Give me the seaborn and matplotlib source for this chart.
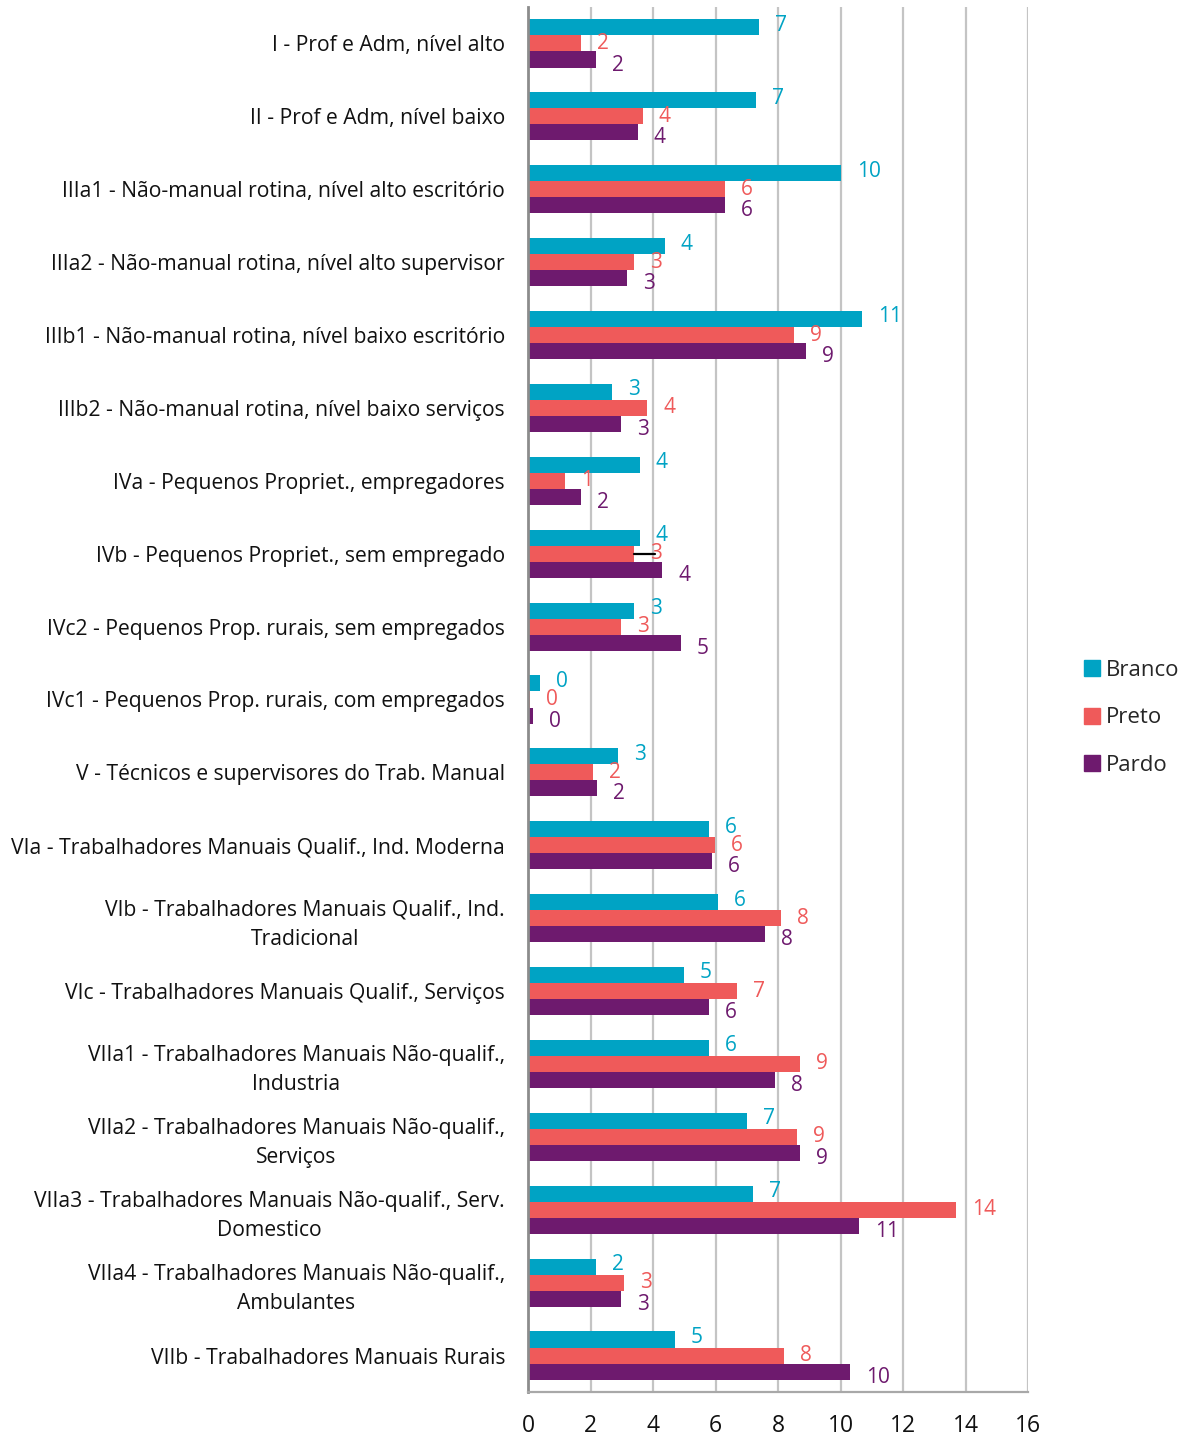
import matplotlib
matplotlib.use("Agg")
import matplotlib.pyplot as plt
import seaborn as sns
import pandas as pd
from matplotlib.lines import Line2D

categories = [
    "I - Prof e Adm, nível alto",
    "II - Prof e Adm, nível baixo",
    "IIIa1 - Não-manual rotina, nível alto escritório",
    "IIIa2 - Não-manual rotina, nível alto supervisor",
    "IIIb1 - Não-manual rotina, nível baixo escritório",
    "IIIb2 - Não-manual rotina, nível baixo serviços",
    "IVa - Pequenos Propriet., empregadores",
    "IVb - Pequenos Propriet., sem empregado",
    "IVc2 - Pequenos Prop. rurais, sem empregados",
    "IVc1 - Pequenos Prop. rurais, com empregados",
    "V - Técnicos e supervisores do Trab. Manual",
    "VIa - Trabalhadores Manuais Qualif., Ind. Moderna",
    "VIb - Trabalhadores Manuais Qualif., Ind.\nTradicional",
    "VIc - Trabalhadores Manuais Qualif., Serviços",
    "VIIa1 - Trabalhadores Manuais Não-qualif.,\nIndustria",
    "VIIa2 - Trabalhadores Manuais Não-qualif.,\nServiços",
    "VIIa3 - Trabalhadores Manuais Não-qualif., Serv.\nDomestico",
    "VIIa4 - Trabalhadores Manuais Não-qualif.,\nAmbulantes",
    "VIIb - Trabalhadores Manuais Rurais",
]

branco = [7.39, 7.30, 10.02, 4.38, 10.69, 2.69, 3.58, 3.58, 3.39, 0.38,
          2.88, 5.79, 6.08, 4.99, 5.79, 7.01, 7.20, 2.18, 4.70]
preto = [1.69, 3.68, 6.29, 3.39, 8.51, 3.81, 1.18, 3.39, 2.98, 0.06,
         2.08, 5.98, 8.10, 6.69, 8.70, 8.61, 13.70, 3.07, 8.19]
pardo = [2.19, 3.52, 6.29, 3.17, 8.90, 2.98, 1.70, 4.29, 4.90, 0.16,
         2.21, 5.89, 7.58, 5.79, 7.90, 8.70, 10.59, 2.98, 10.30]

series = ["Branco", "Preto", "Pardo"]
colors = ["#00A3C4", "#EF5A5A", "#6E1A6E"]
xticks = [0, 2, 4, 6, 8, 10, 12, 14, 16]

# leader line seen on the IVb / Preto label
leader_cat = "IVb - Pequenos Propriet., sem empregado"
leader_len = 0.68

rows = []
for s, vals in zip(series, [branco, preto, pardo]):
    for c, v in zip(categories, vals):
        rows.append({"cat": c, "serie": s, "valor": v})
df = pd.DataFrame(rows)

sns.set_theme(style="white")
FONT = ["Open Sans", "DejaVu Sans"]
plt.rcParams["font.family"] = FONT

fig = plt.figure(figsize=(11.92, 14.38), dpi=100)
ax = fig.add_axes([528 / 1192, 1 - 1392 / 1438, 500 / 1192, 1385 / 1438])

sns.barplot(data=df, y="cat", x="valor", hue="serie", order=categories,
            hue_order=series, palette=colors, width=0.66, orient="h",
            ax=ax, legend=False, saturation=1, linewidth=0)

ax.set_xlim(0, 16)
ax.set_ylim(len(categories) - 0.5, -0.5)
ax.set_xticks(xticks)
ax.set_xticklabels([str(t) for t in xticks], fontsize=16.5)
ax.set_xlabel("")
ax.set_ylabel("")
ax.tick_params(axis="x", length=0, pad=15.5, colors="#111111")
ax.tick_params(axis="y", length=0, pad=16.5, colors="#111111")
for lab in ax.get_yticklabels():
    lab.set_fontsize(15.2)
    lab.set_multialignment("center")
    lab.set_linespacing(1.5)

ax.grid(axis="x", color="#c4c4c4", linewidth=1.6)
ax.set_axisbelow(True)
for side in ["top", "right"]:
    ax.spines[side].set_visible(False)
ax.spines["left"].set_color("#8c8c8c")
ax.spines["left"].set_linewidth(2)
ax.spines["bottom"].set_color("#a8a8a8")
ax.spines["bottom"].set_linewidth(1.6)

# data labels (small vertical nudges as in the source chart)
nudges = [1.5, 0, -4]
for cont, col, dy in zip(ax.containers, colors, nudges):
    for bar in cont:
        w = bar.get_width()
        yc = bar.get_y() + bar.get_height() / 2
        ax.annotate(f"{w:.0f}", xy=(w, yc), xytext=(11.5, dy),
                    textcoords="offset points", ha="left", va="center",
                    color=col, fontsize=15, annotation_clip=False)

# leader line
i_lead = categories.index(leader_cat)
pbar = ax.containers[1][i_lead]
yl = pbar.get_y() + pbar.get_height() / 2
ax.plot([pbar.get_width(), pbar.get_width() + leader_len], [yl, yl],
        color="black", linewidth=1.6, zorder=5)

handles = [Line2D([0], [0], marker="s", linestyle="", markersize=11,
                  markerfacecolor=c, markeredgecolor=c) for c in colors]
fig.legend(handles, series, loc="center left",
           bbox_to_anchor=(1081 / 1192, 1 - 718 / 1438), frameon=False,
           fontsize=16, handletextpad=0.1, labelspacing=1.2,
           handlelength=1.0, borderpad=0, borderaxespad=0)

fig.savefig("out.png", dpi=100)
